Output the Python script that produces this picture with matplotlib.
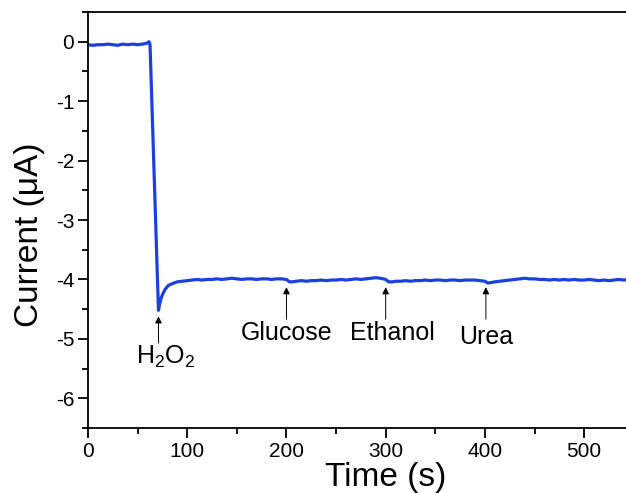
import matplotlib.pyplot as plt

plt.rcParams['font.family'] = ['Liberation Sans', 'DejaVu Sans']
plt.rcParams['mathtext.fontset'] = 'custom'
plt.rcParams['mathtext.rm'] = 'Liberation Sans'
plt.rcParams['mathtext.default'] = 'regular'
plt.rcParams['axes.unicode_minus'] = False

# current-time trace
time_s = [0, 5, 10, 15, 20, 25, 30, 35, 40, 45, 50, 55, 60, 61.5, 62.5,
          71, 72, 74, 76, 78, 81, 85, 90, 95, 100,
          105, 110, 115, 120, 125, 130, 135, 140, 145, 150, 155, 160, 165, 170,
          175, 180, 185, 190, 195, 200, 203, 206, 210, 215, 220, 225, 230, 235,
          240, 245, 250, 255, 260, 265, 270, 275, 280, 285, 290, 295, 300, 303,
          307, 310, 315, 320, 325, 330, 335, 340, 345, 350, 355, 360, 365, 370,
          375, 380, 385, 390, 395, 400, 403, 407, 410, 415, 420, 425, 430, 435,
          440, 445, 450, 455, 460, 465, 470, 475, 480, 485, 490, 495, 500, 505,
          510, 515, 520, 525, 530, 535, 540, 545, 550]
current_uA = [-0.05, -0.06, -0.05, -0.05, -0.04, -0.05, -0.06, -0.04, -0.05, -0.04, -0.05, -0.04, -0.02, 0.0, -0.05,
              -4.52, -4.42, -4.3, -4.22, -4.16, -4.1, -4.07, -4.04, -4.03, -4.02,
              -4.01, -4.0, -4.01, -4.0, -4.0, -3.99, -4.0, -3.99, -3.98, -3.99, -4.0, -3.99, -3.99, -4.0,
              -3.99, -3.99, -4.0, -3.99, -3.99, -4.0, -4.04, -4.04, -4.03, -4.02, -4.03, -4.02, -4.02, -4.01,
              -4.02, -4.01, -4.01, -4.0, -4.01, -4.0, -3.99, -4.0, -3.99, -3.98, -3.97, -3.98, -4.0, -4.04,
              -4.04, -4.03, -4.03, -4.02, -4.03, -4.02, -4.02, -4.01, -4.02, -4.01, -4.01, -4.02, -4.01, -4.01,
              -4.02, -4.01, -4.01, -4.01, -4.02, -4.03, -4.06, -4.05, -4.04, -4.03, -4.02, -4.01, -4.0, -3.99,
              -3.98, -3.99, -3.99, -4.0, -4.0, -4.01, -4.0, -4.01, -4.0, -4.01, -4.0, -4.01, -4.01, -4.0,
              -4.01, -4.02, -4.01, -4.02, -4.01, -4.0, -4.01, -4.0, -4.0]

# injections
labels = ['H$_2$O$_2$', 'Glucose', 'Ethanol', 'Urea']
inject_t = [71, 200, 300, 401]
tip_y = [-4.62, -4.13, -4.13, -4.13]
tail_y = [-5.07, -4.67, -4.67, -4.67]
text_x = [78, 200, 307, 401]
text_y = [-5.3, -4.9, -4.9, -4.97]

fig = plt.figure(figsize=(6.26, 4.93), dpi=100)
ax = fig.add_axes([0.1406, 0.1318, 0.951, 0.8438])

ax.plot(time_s, current_uA, color='#1a40e0', lw=2.3)

for lab, t, ty, tl, tx, yy in zip(labels, inject_t, tip_y, tail_y, text_x, text_y):
    ax.annotate('', xy=(t, ty), xytext=(t, tl),
                arrowprops=dict(arrowstyle='-|>', color='black', lw=0.7,
                                mutation_scale=10, shrinkA=0, shrinkB=0))
    ax.text(tx, yy, lab, ha='center', va='center', fontsize=18)

ax.set_xlim(0, 600)
ax.set_ylim(-6.5, 0.5)
ax.set_xticks([0, 100, 200, 300, 400, 500])
ax.set_xticks(range(50, 600, 100), minor=True)
ax.set_yticks([-6, -5, -4, -3, -2, -1, 0])
ax.set_yticks([-6.5, -5.5, -4.5, -3.5, -2.5, -1.5, -0.5, 0.5], minor=True)
ax.tick_params(which='major', direction='out', length=7, width=1.3, labelsize=15, pad=3)
ax.tick_params(which='minor', direction='out', length=4, width=1.3)
for s in ax.spines.values():
    s.set_linewidth(1.3)

ax.set_xlabel('Time (s)', fontsize=24, va='center')
ax.xaxis.set_label_coords(0.5, -0.118)
ax.set_ylabel('Current (\u03bcA)', fontsize=24, va='center')
ax.yaxis.set_label_coords(-0.0975, 0.464)

fig.savefig('out.png', dpi=100)
